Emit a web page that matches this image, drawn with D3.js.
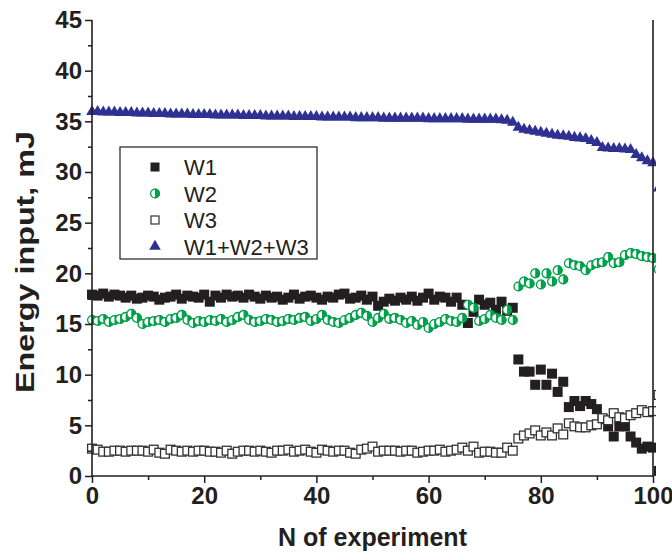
<!DOCTYPE html>
<html>
<head>
<meta charset="utf-8">
<script src="https://cdn.jsdelivr.net/npm/d3@7"></script>
<style>
  body { margin: 0; background: #fff; }
  text { font-family: "Liberation Sans", Arial, sans-serif; }
</style>
</head>
<body>
<svg id="chart" width="672" height="560"></svg>
<script>
// Energy input per experiment, mJ (experiments 0..101; the last one sits just past the frame)
const w1 = [17.9,17.8,18.0,17.7,17.9,17.8,17.6,17.8,17.5,17.6,17.8,17.7,17.4,17.6,17.7,17.9,17.5,17.8,17.7,17.6,
            17.9,17.2,17.8,17.6,17.9,17.7,17.8,17.6,17.9,17.7,17.5,17.8,17.6,17.7,17.4,17.6,17.9,17.5,17.7,17.8,
            17.6,17.4,17.7,17.6,17.9,18.0,17.5,17.6,17.8,17.4,17.7,16.8,17.2,17.5,17.3,17.6,17.4,17.7,17.3,17.6,
            18.0,17.4,17.7,17.6,17.2,17.6,16.9,15.1,16.2,17.4,16.9,17.1,16.4,17.2,16.3,16.6,
            11.5,10.3,10.3,9.0,10.5,9.0,10.1,8.3,9.3,6.8,7.4,6.9,7.4,7.1,6.6,5.6,4.9,3.9,4.9,4.9,3.9,3.3,2.7,2.9,2.8,0.5];
const w2 = [15.4,15.3,15.5,15.2,15.4,15.5,15.7,16.0,15.6,15.0,15.2,15.3,15.4,15.2,15.5,15.6,15.9,15.4,15.1,15.3,
            15.2,15.4,15.3,15.5,15.2,15.4,15.7,15.9,15.4,15.2,15.3,15.5,15.4,15.2,15.3,15.5,15.4,15.6,15.7,15.3,
            15.5,15.9,15.4,15.2,15.1,15.4,15.6,15.9,16.1,15.8,15.2,15.6,16.0,15.5,15.6,15.4,15.1,15.3,14.9,15.2,
            14.6,15.0,15.2,15.5,15.3,15.2,15.6,16.9,16.6,15.3,15.5,15.9,15.6,15.4,16.4,15.4,
            18.7,19.2,19.0,20.0,18.9,20.0,19.2,20.3,19.4,21.0,20.8,20.7,20.3,20.8,21.0,21.1,21.6,21.0,21.1,21.8,22.0,21.9,21.7,21.6,21.5,20.4];
const w3 = [2.7,2.6,2.4,2.4,2.5,2.5,2.4,2.5,2.5,2.5,2.4,2.6,2.3,2.2,2.6,2.5,2.4,2.5,2.4,2.5,
            2.5,2.4,2.4,2.3,2.5,2.2,2.4,2.5,2.5,2.4,2.5,2.4,2.3,2.5,2.5,2.6,2.4,2.5,2.6,2.4,
            2.3,2.6,2.5,2.4,2.5,2.5,2.3,2.2,2.6,2.7,2.9,2.4,2.5,2.5,2.5,2.4,2.5,2.5,2.3,2.4,
            2.5,2.5,2.6,2.4,2.5,2.6,2.8,2.5,2.9,2.3,2.4,2.4,2.3,2.3,2.8,2.5,
            3.7,4.0,4.2,4.5,4.0,4.3,4.0,4.7,4.1,5.2,4.9,4.8,4.8,5.0,5.1,5.7,5.5,6.2,5.8,5.7,6.0,6.2,6.5,6.3,6.4,8.0];
const total = [35.95,35.95,35.9,35.9,35.9,35.85,35.85,35.85,35.8,35.8,35.8,35.75,35.75,35.75,35.7,35.7,35.7,35.7,35.65,35.65,
               35.65,35.65,35.6,35.6,35.6,35.6,35.6,35.55,35.55,35.55,35.55,35.5,35.5,35.5,35.5,35.5,35.45,35.45,35.45,35.45,
               35.45,35.4,35.4,35.4,35.4,35.4,35.4,35.35,35.35,35.35,35.35,35.35,35.3,35.3,35.3,35.3,35.3,35.3,35.3,35.3,
               35.25,35.25,35.25,35.25,35.25,35.25,35.25,35.2,35.2,35.2,35.2,35.2,35.2,35.15,35.1,34.9,
               34.4,34.2,34.1,34.0,33.9,33.8,33.7,33.6,33.55,33.5,33.4,33.35,33.3,33.1,32.9,32.4,32.35,32.3,32.3,32.25,32.2,31.7,31.4,31.1,30.9,28.4];

const experiments = d3.range(w1.length);
const xTicksMajor = [0, 20, 40, 60, 80, 100];
const xTicksMinor = [10, 30, 50, 70, 90];
const yTicksMajor = [0, 5, 10, 15, 20, 25, 30, 35, 40, 45];
const yTicksMinor = [2.5, 7.5, 12.5, 17.5, 22.5, 27.5, 32.5, 37.5, 42.5];

const seriesNames = ["W1", "W2", "W3", "W1+W2+W3"];

const ink = "#231f20";
const green = "#00a14b";
const blue = "#2e3192";

const svg = d3.select("#chart");
const x = d3.scaleLinear().domain([0, 100]).range([92, 653]);
const y = d3.scaleLinear().domain([0, 45]).range([476, 20]);

// clip markers at the right frame (a few pixels of the last experiment remain visible)
svg.append("defs").append("clipPath").attr("id", "plotClip")
  .append("rect")
  .attr("x", x(0) - 12).attr("y", 0)
  .attr("width", x(100) - x(0) + 15).attr("height", 560);

const marks = svg.append("g").attr("clip-path", "url(#plotClip)");

// W1: filled squares
const sq = 10;
marks.append("g").selectAll("rect").data(experiments).join("rect")
  .attr("x", i => x(i) - sq / 2).attr("y", i => y(w1[i]) - sq / 2)
  .attr("width", sq).attr("height", sq)
  .attr("fill", ink);

// W2: half-filled circles
const r = 5;
const halfDisc = `M0,${-r}A${r},${r} 0 0 1 0,${r}Z`;
const g2 = marks.append("g").selectAll("g").data(experiments).join("g")
  .attr("transform", i => `translate(${x(i)},${y(w2[i])})`);
g2.append("circle").attr("r", r - 0.6).attr("fill", "#fff")
  .attr("stroke", green).attr("stroke-width", 1.3);
g2.append("path").attr("d", halfDisc).attr("fill", green);

// W3: open squares
marks.append("g").selectAll("rect").data(experiments).join("rect")
  .attr("x", i => x(i) - sq / 2 + 0.6).attr("y", i => y(w3[i]) - sq / 2 + 0.6)
  .attr("width", sq - 1.2).attr("height", sq - 1.2)
  .attr("fill", "#fff").attr("stroke", "#333").attr("stroke-width", 1.3);

// Total: filled triangles
const tri = d3.symbol().type(d3.symbolTriangle).size(58);
marks.append("g").selectAll("path").data(experiments).join("path")
  .attr("d", tri)
  .attr("transform", i => `translate(${x(i)},${y(total[i])})`)
  .attr("fill", blue);

// axes
const axisStyle = sel => {
  sel.selectAll("path,line").attr("stroke", ink).attr("stroke-width", 1.5);
  sel.selectAll("text").attr("fill", ink).attr("font-size", 24).attr("font-weight", "bold")
    .attr("font-family", "'Liberation Sans', Arial, sans-serif");
};

svg.append("g").attr("transform", `translate(0,${y(0)})`)
  .call(d3.axisBottom(x).tickValues(xTicksMajor).tickSize(7).tickSizeOuter(0).tickPadding(4).tickFormat(d3.format("d")))
  .call(axisStyle)
  .call(g => g.select(".domain").remove());
svg.append("g").attr("transform", `translate(0,${y(0)})`)
  .call(d3.axisBottom(x).tickValues(xTicksMinor).tickSize(4).tickSizeOuter(0).tickFormat(""))
  .call(axisStyle)
  .call(g => g.select(".domain").remove());

svg.append("g").attr("transform", `translate(${x(0)},0)`)
  .call(d3.axisLeft(y).tickValues(yTicksMajor).tickSize(7).tickSizeOuter(0).tickPadding(3).tickFormat(d3.format("d")))
  .call(axisStyle)
  .call(g => g.select(".domain").remove());
svg.append("g").attr("transform", `translate(${x(0)},0)`)
  .call(d3.axisLeft(y).tickValues(yTicksMinor).tickSize(4).tickSizeOuter(0).tickFormat(""))
  .call(axisStyle)
  .call(g => g.select(".domain").remove());

// frame lines: left, bottom, right
const frame = svg.append("g").attr("stroke", ink).attr("stroke-width", 1.6);
frame.append("line").attr("x1", x(0)).attr("x2", x(0)).attr("y1", y(45)).attr("y2", y(0));
frame.append("line").attr("x1", x(0)).attr("x2", x(100)).attr("y1", y(0)).attr("y2", y(0));
frame.append("line").attr("x1", x(100)).attr("x2", x(100)).attr("y1", y(45)).attr("y2", y(0) + 1);

// axis titles
svg.append("text")
  .attr("x", (x(0) + x(100)) / 2).attr("y", 546)
  .attr("text-anchor", "middle").attr("font-size", 25).attr("font-weight", "bold").attr("fill", ink)
  .text("N of experiment");
svg.append("text")
  .attr("transform", `translate(34,${(y(0) + y(45)) / 2 + 14}) rotate(-90)`)
  .attr("text-anchor", "middle").attr("font-size", 25).attr("font-weight", "bold").attr("fill", ink)
  .attr("textLength", 262).attr("lengthAdjust", "spacingAndGlyphs")
  .text("Energy input, mJ");

// legend
const lg = svg.append("g").attr("transform", "translate(120,147)");
lg.append("rect").attr("width", 197).attr("height", 112)
  .attr("fill", "#fff").attr("stroke", ink).attr("stroke-width", 1.2);
const rowY = i => 20 + i * 26.5;
const mx = 35;
lg.append("rect").attr("x", mx - 4.5).attr("y", rowY(0) - 4.5).attr("width", 9).attr("height", 9).attr("fill", ink);
const lw2 = lg.append("g").attr("transform", `translate(${mx},${rowY(1)})`);
lw2.append("circle").attr("r", r - 0.6).attr("fill", "#fff").attr("stroke", green).attr("stroke-width", 1.3);
lw2.append("path").attr("d", halfDisc).attr("fill", green);
lg.append("rect").attr("x", mx - 4).attr("y", rowY(2) - 4).attr("width", 8).attr("height", 8)
  .attr("fill", "#fff").attr("stroke", "#333").attr("stroke-width", 1.2);
lg.append("path").attr("d", tri).attr("transform", `translate(${mx},${rowY(3)})`).attr("fill", blue);
lg.selectAll("text.lab").data(seriesNames).join("text").attr("class", "lab")
  .attr("x", 64).attr("y", (d, i) => rowY(i) + 8)
  .attr("font-size", 22).attr("fill", ink)
  .text(d => d);
</script>
</body>
</html>
